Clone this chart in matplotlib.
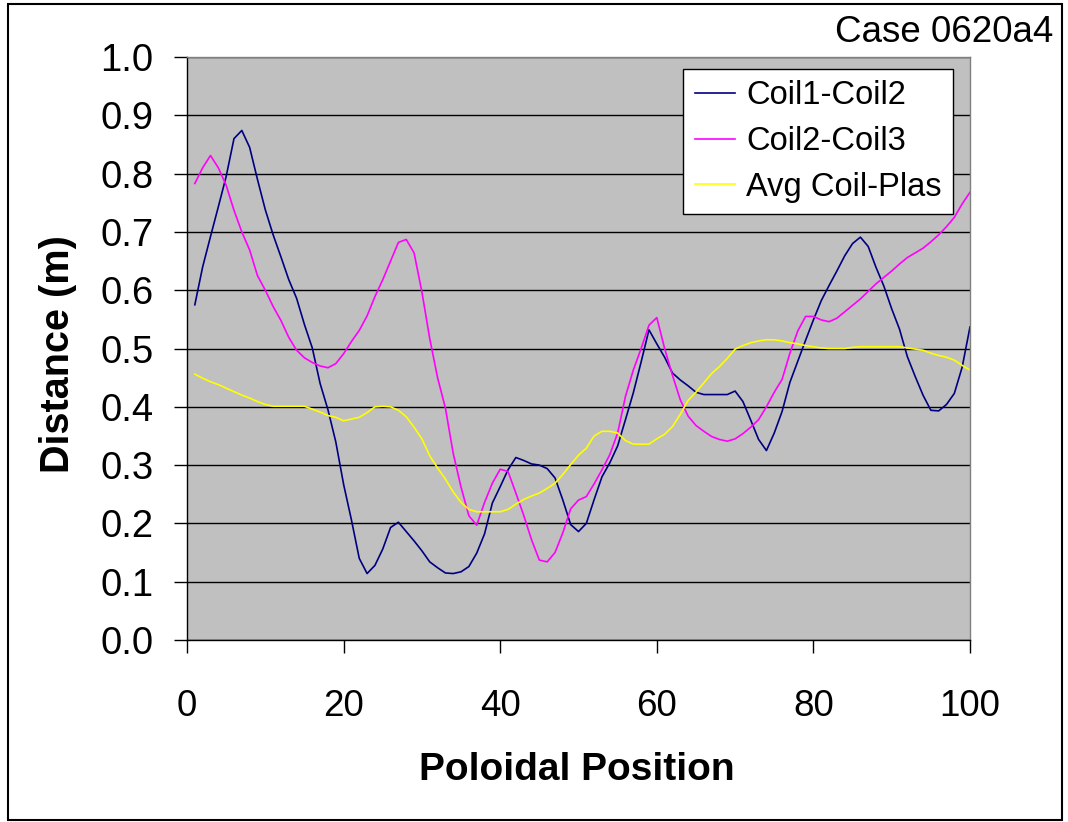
import matplotlib
matplotlib.use("Agg")
import matplotlib.pyplot as plt
from matplotlib.patches import Rectangle

plt.rcParams['font.family'] = ['Liberation Sans', 'DejaVu Sans']

# position poloidale 1..100
position = list(range(1, 101))

coil1_coil2 = [
    0.575, 0.640, 0.692, 0.743, 0.795, 0.860, 0.874, 0.845, 0.790, 0.738,
    0.695, 0.657, 0.618, 0.586, 0.541, 0.501, 0.440, 0.395, 0.340, 0.267,
    0.206, 0.140, 0.114, 0.128, 0.156, 0.193, 0.202, 0.186, 0.170, 0.153,
    0.134, 0.124, 0.115, 0.114, 0.117, 0.126, 0.149, 0.182, 0.235, 0.263,
    0.292, 0.313, 0.308, 0.302, 0.300, 0.294, 0.278, 0.240, 0.198, 0.186,
    0.200, 0.241, 0.280, 0.304, 0.333, 0.378, 0.424, 0.477, 0.532, 0.508,
    0.485, 0.458, 0.446, 0.436, 0.425, 0.421, 0.421, 0.421, 0.421, 0.427,
    0.409, 0.377, 0.344, 0.325, 0.355, 0.392, 0.442, 0.478, 0.514, 0.549,
    0.582, 0.608, 0.633, 0.659, 0.680, 0.691, 0.675, 0.639, 0.607, 0.568,
    0.533, 0.486, 0.452, 0.420, 0.394, 0.393, 0.404, 0.423, 0.468, 0.537,
]

coil2_coil3 = [
    0.783, 0.810, 0.831, 0.810, 0.780, 0.737, 0.700, 0.669, 0.625, 0.600,
    0.572, 0.548, 0.519, 0.497, 0.484, 0.476, 0.470, 0.467, 0.474, 0.491,
    0.512, 0.531, 0.556, 0.589, 0.618, 0.650, 0.682, 0.687, 0.664, 0.597,
    0.517, 0.450, 0.398, 0.320, 0.262, 0.213, 0.197, 0.236, 0.269, 0.293,
    0.289, 0.252, 0.214, 0.172, 0.137, 0.134, 0.150, 0.184, 0.225, 0.240,
    0.246, 0.268, 0.292, 0.318, 0.355, 0.418, 0.463, 0.500, 0.540, 0.553,
    0.500, 0.454, 0.412, 0.384, 0.368, 0.358, 0.349, 0.344, 0.341, 0.345,
    0.354, 0.365, 0.378, 0.400, 0.425, 0.447, 0.492, 0.530, 0.555, 0.555,
    0.549, 0.546, 0.552, 0.563, 0.574, 0.585, 0.598, 0.611, 0.622, 0.633,
    0.645, 0.656, 0.664, 0.672, 0.683, 0.695, 0.709, 0.725, 0.748, 0.768,
]

avg_coil_plas = [
    0.456, 0.449, 0.443, 0.438, 0.432, 0.426, 0.420, 0.415, 0.409, 0.404,
    0.401, 0.401, 0.401, 0.401, 0.401, 0.396, 0.391, 0.385, 0.382, 0.376,
    0.379, 0.382, 0.390, 0.400, 0.401, 0.400, 0.394, 0.383, 0.365, 0.345,
    0.316, 0.295, 0.276, 0.254, 0.236, 0.224, 0.220, 0.220, 0.220, 0.220,
    0.224, 0.233, 0.241, 0.247, 0.252, 0.260, 0.269, 0.284, 0.301, 0.317,
    0.329, 0.350, 0.358, 0.358, 0.355, 0.342, 0.336, 0.336, 0.336, 0.345,
    0.353, 0.366, 0.387, 0.411, 0.425, 0.441, 0.457, 0.469, 0.483, 0.499,
    0.505, 0.510, 0.513, 0.515, 0.515, 0.513, 0.510, 0.508, 0.505, 0.503,
    0.501, 0.500, 0.500, 0.500, 0.502, 0.503, 0.503, 0.503, 0.503, 0.503,
    0.503, 0.501, 0.499, 0.497, 0.492, 0.488, 0.485, 0.480, 0.471, 0.463,
]

x_ticks = [0, 20, 40, 60, 80, 100]
y_ticks = [0.0, 0.1, 0.2, 0.3, 0.4, 0.5, 0.6, 0.7, 0.8, 0.9, 1.0]

W, H = 1068, 822
fig = plt.figure(figsize=(W / 100, H / 100), dpi=100)
ax = fig.add_axes([187 / W, 1 - 640 / H, 783 / W, 583 / H])
ax.set_facecolor("#C0C0C0")

ax.plot(position, coil1_coil2, color="#000080", lw=1.2, label="Coil1-Coil2")
ax.plot(position, coil2_coil3, color="#FF00FF", lw=1.2, label="Coil2-Coil3")
ax.plot(position, avg_coil_plas, color="#FFFF00", lw=1.2, label="Avg Coil-Plas")

ax.set_xlim(0, 100)
ax.set_ylim(0, 1.0)
ax.set_xticks(x_ticks)
ax.set_yticks(y_ticks)
ax.set_yticklabels([f"{v:.1f}" for v in y_ticks])
ax.grid(axis="y", color="black", lw=1)
ax.set_axisbelow(True)

ax.tick_params(axis="y", direction="out", length=9.5, width=1, labelsize=27.5, pad=14.5)
ax.tick_params(axis="x", direction="out", length=9.5, width=1, labelsize=26.5, pad=25.5)

for s in ["left", "bottom"]:
    ax.spines[s].set_color("black")
    ax.spines[s].set_linewidth(1)
for s in ["top", "right"]:
    ax.spines[s].set_color("#808080")
    ax.spines[s].set_linewidth(1)

# titres des axes
fig.text(58 / W, 1 - 354 / H, "Distance (m)", rotation=90, ha="center", va="center",
         fontsize=28.5, fontweight="bold")
fig.text(577 / W, 1 - 770 / H, "Poloidal Position", ha="center", va="center",
         fontsize=28, fontweight="bold")
fig.text(1053 / W, 1 - 42 / H, "Case 0620a4", ha="right", va="baseline", fontsize=26.5)

leg = ax.legend(loc="upper right", bbox_to_anchor=(953 / W, 1 - 69 / H),
                bbox_transform=fig.transFigure, fontsize=23.5, frameon=True,
                fancybox=False, framealpha=1, edgecolor="black", borderaxespad=0,
                handlelength=1.25, handletextpad=0.33, labelspacing=0.45, borderpad=0.35)
leg.get_frame().set_linewidth(1)

# cadre autour de la figure
fig.patches.append(Rectangle((8 / W, 1 - 820 / H), 1054 / W, 816 / H, fill=False,
                             edgecolor="black", lw=1.5, transform=fig.transFigure))

fig.savefig("out.png", dpi=100)
